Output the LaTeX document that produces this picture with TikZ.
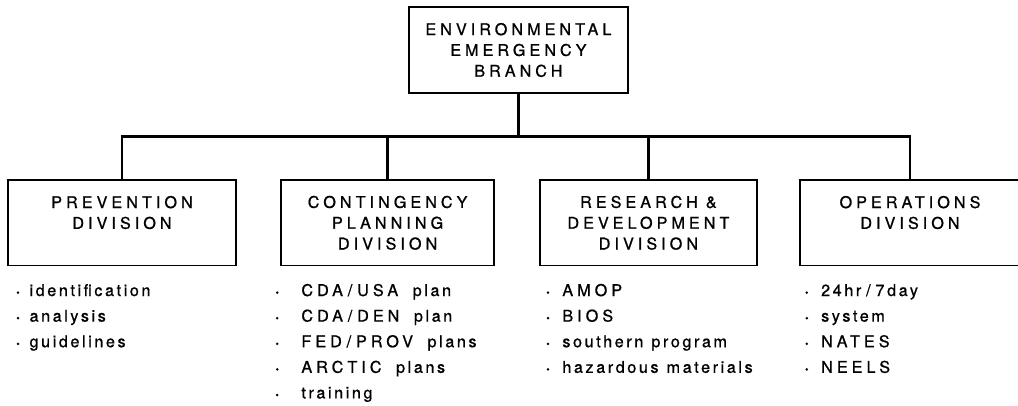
\documentclass[tikz,border=0pt]{standalone}
\usepackage{fontspec}
\setmainfont{TeX Gyre Heros}[LetterSpace=16, FakeBold=0.9]
\newfontfamily\capsfont{TeX Gyre Heros}[LetterSpace=25, FakeBold=0.9]
\usetikzlibrary{positioning, calc}

\newcommand{\itm}[1][7pt]{{\scriptsize\textbullet}\hspace{#1}}
\newcommand{\sep}{\hspace{0.3em}/\hspace{0.3em}}

\tikzset{
  orgchart/.style={
	every node/.style={font=\fontsize{11.5}{14.8}\selectfont}, % same size everywhere
	unit/.style={draw, line width=1.2pt, align=center, minimum height=2.14cm,
		font=\capsfont\fontsize{11.5}{14.8}\selectfont}, % boxed units, spaced capitals
	link/.style={line width=2pt}, % the lines of the tree
	item/.style={anchor=base west, inner sep=0pt}, % one line of a task list
  }
}

\begin{document}
\begin{tikzpicture}[orgchart]
	\useasboundingbox[fill=white] (0,0) rectangle (25.45,-10.125);

	\node[unit, minimum width=5.475cm, minimum height=2.15cm] (branch) at (12.96,-1.25) {ENVIRONMENTAL\\EMERGENCY\\BRANCH};

	\node[unit, minimum width=5.7cm] (prev) at (3.05,-5.57) {PREVENTION\\DIVISION\\\mbox{}};
	\node[unit, minimum width=5.325cm] (cont) at (9.69,-5.57) {CONTINGENCY\\PLANNING\\DIVISION};
	\node[unit, minimum width=5.425cm] (rnd) at (16.21,-5.57) {RESEARCH\hspace{0.5em}\&\\DEVELOPMENT\\DIVISION};
	\node[unit, minimum width=5.5cm] (ops) at (22.75,-5.57) {OPERATIONS\\DIVISION\\\mbox{}};

	% tree
	\draw[link] (branch.south) -- ++(0,-1.06) coordinate (bus);
	\draw[link] (prev.north) |- (bus) -| (ops.north);
	\draw[link] (cont.north) -- (cont.north |- bus);
	\draw[link] (rnd.north) -- (rnd.north |- bus);

	% task lists
	\foreach \t [count=\i] in {identification, analysis, guidelines}
		\node[item] (prev-\i) at (0.4,{-7.4-0.64*(\i-1)}) {\itm\t};
	\foreach \t [count=\i] in {{\capsfont CDA\sep USA}\hspace{0.9em}plan, {\capsfont CDA\sep DEN}\hspace{0.9em}plan,
			{\capsfont FED\sep PROV}\hspace{0.9em}plans, {\capsfont ARCTIC}\hspace{0.9em}plans, training}
		\node[item] (cont-\i) at (6.88,{-7.4-0.64*(\i-1)}) {\itm[16pt]\t};
	\foreach \t [count=\i] in {{\capsfont AMOP}, {\capsfont BIOS}, southern\hspace{0.5em}program, hazardous\hspace{0.5em}materials}
		\node[item] (rnd-\i) at (13.65,{-7.4-0.64*(\i-1)}) {\itm[9pt]\t};
	\foreach \t [count=\i] in {24hr\sep 7\,day, system, {\capsfont NATES}, {\capsfont NEELS}}
		\node[item] (ops-\i) at (20.12,{-7.4-0.64*(\i-1)}) {\itm[9pt]\t};
\end{tikzpicture}
\end{document}
